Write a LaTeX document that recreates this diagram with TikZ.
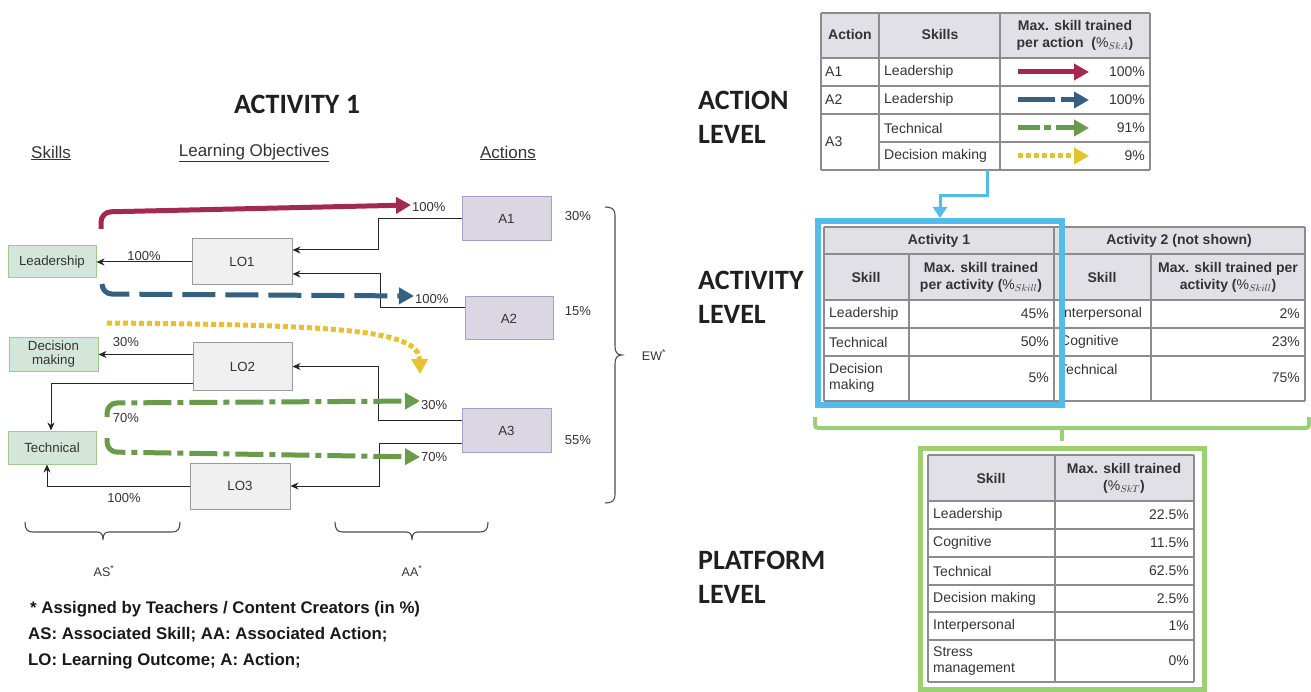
\documentclass[tikz,border=0pt]{standalone}
\usepackage{fontspec}
\setmainfont{Liberation Sans}
\newfontfamily\headfont{Carlito}
\usetikzlibrary{arrows.meta}
\definecolor{txtcol}{HTML}{333333}
\definecolor{skillfill}{HTML}{D4E6DA}
\definecolor{skillborder}{HTML}{9CCB8A}
\definecolor{lofill}{HTML}{F0F0F0}
\definecolor{loborder}{HTML}{9A9A9A}
\definecolor{actfill}{HTML}{DBD7E2}
\definecolor{actborder}{HTML}{AC9BCB}
\definecolor{hdrfill}{HTML}{E1E0E6}
\definecolor{gridcol}{HTML}{8C8C8C}
\definecolor{cred}{HTML}{A3294F}
\definecolor{cblue}{HTML}{356080}
\definecolor{cyellow}{HTML}{E6C22E}
\definecolor{cgreen}{HTML}{6A9B4A}
\definecolor{boxblue}{HTML}{55BCEA}
\definecolor{boxgreen}{HTML}{9BD174}
\newcommand\fsz[2]{\fontsize{#1}{#2}\selectfont}
\begin{document}
\begin{tikzpicture}[x=1pt,y=-1pt,
  skillbox/.style={draw=skillborder, line width=1pt, fill=skillfill, text=txtcol, font=\fsz{13.3}{15}, align=center, inner sep=0pt},
  lobox/.style={draw=loborder, line width=1pt, fill=lofill, text=txtcol, font=\fsz{13.3}{15}, inner sep=0pt, minimum width=100pt, minimum height=46pt},
  actbox/.style={draw=actborder, line width=1pt, fill=actfill, text=txtcol, font=\fsz{13.3}{15}, inner sep=0pt, minimum width=89pt, minimum height=44pt},
  conn/.style={draw=black!85, line width=1pt, -{Stealth[length=8pt,width=7pt,inset=2.5pt]}},
  lbl/.style={text=txtcol, font=\fsz{13}{15}, inner sep=1pt},
  hd/.style={text=txtcol, font=\fsz{17}{20}, inner sep=0pt},
  level/.style={text=black!88, font=\headfont\bfseries\fsz{28}{34}, align=left, anchor=west, inner sep=0pt},
  foot/.style={text=black!90, font=\bfseries\fsz{16.8}{19}, anchor=west, inner sep=0pt},
  tx/.style={text=txtcol, font=\fsz{14}{16.5}, inner sep=0pt},
  tl/.style={tx, anchor=west, align=left},
  tr/.style={tx, anchor=east, align=right},
  th/.style={tx, font=\bfseries\fsz{14}{17}, align=center},
  grid/.style={draw=gridcol, line width=1.1pt},
  redA/.style={draw=cred, line width=5pt, -{Triangle[length=15pt,width=16pt]}},
  blueA/.style={draw=cblue, line width=5pt, dash pattern=on 33pt off 10pt, -{Triangle[length=15pt,width=16pt]}},
  yelA/.style={draw=cyellow, line width=5pt, dash pattern=on 5pt off 3pt, -{Triangle[length=15pt,width=16pt]}},
  grnA/.style={draw=cgreen, line width=5pt, dash pattern=on 28pt off 6pt on 6pt off 6pt, -{Triangle[length=15pt,width=16pt]}},
  brace/.style={draw=black!70, line width=1.1pt}
]
\useasboundingbox (0,0) rectangle (1311,692);

% ---------------- LEFT: Activity 1 diagram ----------------
\node[text=black!88, font=\headfont\bfseries\fsz{28}{34}] (title) at (297,104) {ACTIVITY 1};
\node[hd] (hskills) at (51,153) {\underline{Skills}};
\node[hd] (hlo) at (254,153) {\underline{Learning Objectives}};
\node[hd] (hact) at (508,153) {\underline{Actions}};

\node[skillbox, minimum width=88pt, minimum height=32pt] (lead) at (52,262) {Leadership};
\node[skillbox, minimum width=89pt, minimum height=33pt, font=\fsz{13.3}{14}] (dec) at (53.5,354.5) {Decision\\making};
\node[skillbox, minimum width=88pt, minimum height=33pt] (tech) at (52,447.5) {Technical};

\node[lobox] (lo1) at (242,262) {LO1};
\node[lobox, minimum width=99pt, minimum height=47pt] (lo2) at (242.5,366.5) {LO2};
\node[lobox] (lo3) at (240,486) {LO3};

\node[actbox] (a1) at (506.5,219) {A1};
\node[actbox, minimum width=88pt, minimum height=43pt] (a2) at (509,318.5) {A2};
\node[actbox] (a3) at (506.5,430.5) {A3};

\node[lbl] (w1) at (578,216) {30\%};
\node[lbl] (w2) at (578,311) {15\%};
\node[lbl] (w3) at (578,440) {55\%};

% black connectors
\draw[conn] (a1.west) -- ++(-83,0) |- ([yshift=12pt]lo1.east);
\draw[conn] ([yshift=10.5pt]a2.west) -- ++(-84,0) |- ([yshift=-12pt]lo1.east);
\draw[conn] ([yshift=10.5pt]a3.west) -- ++(-83,0) |- (lo2.east);
\draw[conn] ([yshift=-12.5pt]a3.west) -- ++(-82,0) |- (lo3.east);
\draw[conn] (lo1.west) -- node[lbl, above] (l1p) {100\%} (lead.east);
\draw[conn] ([yshift=12pt]lo2.west) -- (dec.east);
\draw[conn] ([yshift=-16.5pt]lo2.west) -| ([xshift=-1pt]tech.north);
\draw[conn] (lo3.west) -| ([xshift=-5pt]tech.south);
\node[lbl] (l2p) at (126,342) {30\%};
\node[lbl] (l3p) at (126,418) {70\%};
\node[lbl] (l4p) at (124,498) {100\%};

% coloured skill arrows
\node[lbl, anchor=west] (p1) at (411,207) {100\%};
\node[lbl, anchor=west] (p2) at (414,299) {100\%};
\node[lbl, anchor=west] (p3) at (420,405) {30\%};
\node[lbl, anchor=west] (p4) at (420,457) {70\%};
\coordinate (rs) at (101,229);
\coordinate (bs) at (102,284);
\coordinate (ys) at (107,323);
\coordinate (ye) at (420,374);
\coordinate (gs1) at (107,417);
\coordinate (gs2) at (107,438);
\draw[redA, rounded corners=10pt] (rs) -- (101,212) -- ([yshift=2pt]p1.west);
\draw[blueA, rounded corners=10pt] (bs) -- (102,294) -- ([yshift=3pt]p2.west);
\draw[yelA] (ys) .. controls (340,325) and (419,330) .. (ye);
\draw[grnA, rounded corners=10pt] (gs1) -- (107,403) -- ([yshift=4pt]p3.west);
\draw[grnA, rounded corners=10pt] (gs2) -- (107,452) -- ([yshift=0pt]p4.west);

% braces
\draw[brace] (605,207) .. controls (612,207) and (615,209) .. (615,216) -- (615,346) .. controls (615,352) and (617,355) .. (622,355)
  .. controls (617,355) and (615,358) .. (615,364) -- (615,494) .. controls (615,501) and (612,503) .. (605,503);
\node[lbl, font=\fsz{12.5}{15}] (ew) at (654,355) {EW\textsuperscript{*}};
\draw[brace] (25,522) .. controls (25,529) and (27,532) .. (33,532) -- (97,532) .. controls (101,532) and (103,534) .. (103,540)
  .. controls (103,534) and (105,532) .. (109,532) -- (172,532) .. controls (178,532) and (180,529) .. (180,522);
\draw[brace] (335,522) .. controls (335,529) and (337,532) .. (343,532) -- (406,532) .. controls (410,532) and (412,534) .. (412,540)
  .. controls (412,534) and (414,532) .. (418,532) -- (480,532) .. controls (486,532) and (488,529) .. (488,522);
\node[lbl, font=\fsz{12.5}{15}] (as) at (104,571) {AS\textsuperscript{*}};
\node[lbl, font=\fsz{12.5}{15}] (aa) at (412,571) {AA\textsuperscript{*}};

\node[foot] (f1) at (30,609) {* Assigned by Teachers / Content Creators (in \%)};
\node[foot] (f2) at (28,635) {AS: Associated Skill; AA: Associated Action;};
\node[foot] (f3) at (28,661) {LO: Learning Outcome; A: Action;};

% ---------------- RIGHT: level labels ----------------
\node[level] (lv1) at (698,117) {ACTION\\[0pt]LEVEL};
\node[level] (lv2) at (698,297) {ACTIVITY\\[0pt]LEVEL};
\node[level] (lv3) at (698,577) {PLATFORM\\[0pt]LEVEL};

% ---------------- Action table ----------------
\fill[hdrfill] (821,13) rectangle (1150,58);
\foreach \yy in {13,58,86,114,170} \draw[grid] (821,\yy) -- (1150,\yy);
\draw[grid] (879,142) -- (1150,142);
\foreach \xx in {821,879,1000,1150} \draw[grid] (\xx,13) -- (\xx,170);
\node[th] (tAh1) at (850,35) {Action};
\node[th] (tAh2) at (940,35) {Skills};
\node[th] (tAh3) at (1075,35) {Max. skill trained\\per action\ \ ({\mdseries$\%_{SkA}$})};
\node[tl] (tA11) at (825,72) {A1};
\node[tl] (tA12) at (884,72) {Leadership};
\node[tr] (tA13) at (1145,72) {100\%};
\node[tl] (tA21) at (825,100) {A2};
\node[tl] (tA22) at (884,100) {Leadership};
\node[tr] (tA23) at (1145,100) {100\%};
\node[tl] (tA31) at (825,142) {A3};
\node[tl] (tA32) at (884,128) {Technical};
\node[tr] (tA33) at (1145,128) {91\%};
\node[tl] (tA42) at (884,156) {Decision making};
\node[tr] (tA43) at (1145,156) {9\%};
\draw[redA] (1018,72) -- (1089,72);
\draw[blueA, dash pattern=on 37pt off 6pt on 37pt] (1018,100) -- (1089,100);
\draw[grnA, dash pattern=on 22pt off 4pt on 7pt off 5pt on 40pt] (1018,128) -- (1089,128);
\draw[yelA] (1018,156) -- (1089,156);

% connector action -> activity
\coordinate (actbot) at (987,170);
\coordinate (acttop) at (940,218);
\draw[draw=boxblue, line width=3pt, -{Triangle[length=11pt,width=14pt]}] (actbot) -- (987,196) -| (acttop);

% ---------------- Activity table ----------------
\fill[hdrfill] (824,227) rectangle (1305,300);
\foreach \yy in {227,254,300,328,356,401} \draw[grid] (824,\yy) -- (1305,\yy);
\foreach \xx in {824,1054,1305} \draw[grid] (\xx,227) -- (\xx,401);
\foreach \xx in {909,1151} \draw[grid] (\xx,254) -- (\xx,401);
\node[th] (tB0) at (939,241) {Activity 1};
\node[th] (tB00) at (1179,241) {Activity 2 (not shown)};
\node[th] (tBh1) at (866,277) {Skill};
\node[th] (tBh2) at (981,277) {Max. skill trained\\per activity ({\mdseries$\%_{Skill}$})};
\node[th] (tBh3) at (1102,277) {Skill};
\node[th] (tBh4) at (1228,277) {Max. skill trained per\\activity ({\mdseries$\%_{Skill}$})};
\node[tl] (tB11) at (829,314) {Leadership};
\node[tr] (tB12) at (1049,314) {45\%};
\node[tl] (tB21) at (829,342) {Technical};
\node[tr] (tB22) at (1049,342) {50\%};
\node[tl] (tB31) at (829,378) {Decision\\making};
\node[tr] (tB32) at (1049,378) {5\%};
\node[tl] (tB13) at (1060,314) {Interpersonal};
\node[tr] (tB14) at (1300,314) {2\%};
\node[tl] (tB23) at (1060,342) {Cognitive};
\node[tr] (tB24) at (1300,342) {23\%};
\node[tl] (tB33) at (1059,369) {Technical};
\node[tr] (tB34) at (1300,378) {75\%};
\draw[draw=boxblue, line width=6pt] (818,221) rectangle (1062,405);

% green bracket
\draw[draw=boxgreen, line width=4pt, rounded corners=3pt] (815,417) -- (815,428) -- (1309,428) -- (1309,417);
\draw[draw=boxgreen, line width=4pt] (1062,428) -- (1062,441);

% ---------------- Platform table ----------------
\fill[hdrfill] (928,455) rectangle (1194,501);
\foreach \yy in {455,501,529,557,585,612,640,682} \draw[grid] (928,\yy) -- (1194,\yy);
\foreach \xx in {928,1055,1194} \draw[grid] (\xx,455) -- (\xx,682);
\node[th] (tCh1) at (991,478) {Skill};
\node[th] (tCh2) at (1124,478) {Max. skill trained\\({\mdseries$\%_{SkT}$})};
\node[tl] (tC1) at (933,515) {Leadership};
\node[tr] (tC1v) at (1189,515) {22.5\%};
\node[tl] (tC2) at (933,543) {Cognitive};
\node[tr] (tC2v) at (1189,543) {11.5\%};
\node[tl] (tC3) at (933,571) {Technical};
\node[tr] (tC3v) at (1189,571) {62.5\%};
\node[tl] (tC4) at (933,599) {Decision making};
\node[tr] (tC4v) at (1189,599) {2.5\%};
\node[tl] (tC5) at (933,626) {Interpersonal};
\node[tr] (tC5v) at (1189,626) {1\%};
\node[tl] (tC6) at (933,661) {Stress\\management};
\node[tr] (tC6v) at (1189,661) {0\%};
\draw[draw=boxgreen, line width=5pt] (920,448) rectangle (1204,689);
\end{tikzpicture}
\end{document}
